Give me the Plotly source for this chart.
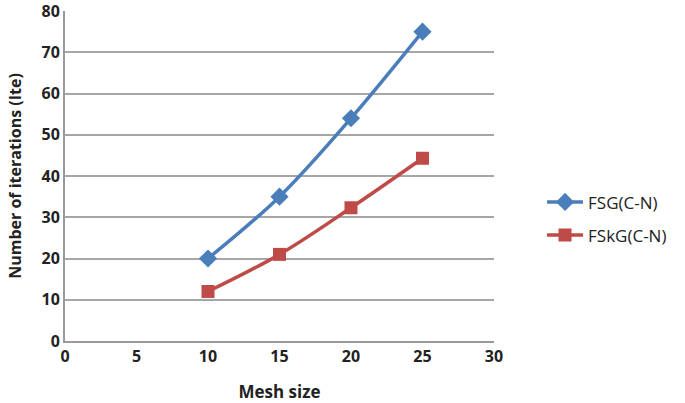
import plotly.graph_objects as go

mesh_size = [10, 15, 20, 25]
fsg_iters = [20, 35, 54, 75]
fskg_iters = [12, 21, 32.3, 44.3]

x_ticks = [0, 5, 10, 15, 20, 25, 30]
y_ticks = [0, 10, 20, 30, 40, 50, 60, 70, 80]

fig = go.Figure()

fig.add_trace(go.Scatter(
    x=mesh_size, y=fsg_iters, name="FSG(C-N)", legendgroup="a",
    mode="lines+markers", line=dict(color="#4A7EBB", width=3.5, shape="spline"),
    marker=dict(symbol="diamond", size=14, color="#4A7EBB")))

fig.add_trace(go.Scatter(
    x=mesh_size, y=fskg_iters, name="FSkG(C-N)", legendgroup="b",
    mode="lines+markers", line=dict(color="#BE4B48", width=3.5, shape="spline"),
    marker=dict(symbol="square", size=13, color="#BE4B48")))

fig.update_layout(
    width=685, height=403,
    margin=dict(l=65, r=191, t=11, b=62),
    plot_bgcolor="white", paper_bgcolor="white",
    font=dict(family="Open Sans, DejaVu Sans", size=15, color="#222"),
    legend=dict(x=1.415, y=0.37, yanchor="middle", xanchor="right",
                font=dict(size=17), tracegroupgap=8, itemwidth=36,
                bgcolor="rgba(0,0,0,0)"),
    showlegend=True,
)

fig.update_xaxes(
    range=[0, 30], tickvals=x_ticks, showgrid=False, zeroline=False,
    showline=True, linecolor="#999", linewidth=2, ticks="", automargin=False,
    ticklabeloverflow="allow",
    tickfont=dict(size=16, color="#222", weight="bold"),
    title=dict(text="<b>Mesh size</b>", font=dict(size=17), standoff=22))

fig.update_yaxes(
    range=[0, 80], tickvals=y_ticks, showgrid=True, gridcolor="#a6a6a6",
    gridwidth=1.5, zeroline=False, showline=True, linecolor="#999", linewidth=2,
    ticks="", automargin=False, ticklabeloverflow="allow",
    tickfont=dict(size=16, color="#222", weight="bold"),
    title=dict(text="<b>Number of iterations (Ite)</b>", font=dict(size=16), standoff=16))

# drop the default 8px body margin so the figure sits at the page corner
fig.write_html("out.html", config={"displayModeBar": False},
               post_script="document.body.style.margin='0';")
